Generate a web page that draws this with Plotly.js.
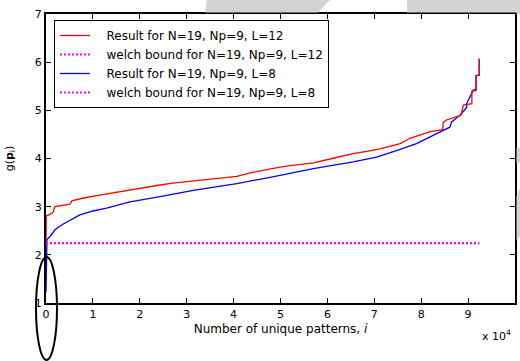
<!DOCTYPE html>
<html>
<head>
<meta charset="utf-8">
<script src="https://cdn.plot.ly/plotly-3.0.1.min.js"></script>
<style>html,body{margin:0;padding:0;background:#fff;}</style>
</head>
<body>
<div id="chart" style="width:520px;height:361px;"></div>
<script>
// Result for N=19, Np=9, L=12 (sorted g values vs pattern index)
const redX = [1, 20, 60, 850, 1500, 1900, 3500, 5100, 5500, 8000, 10800, 15000, 20000, 22200, 24300, 27000, 31400, 35000, 40700, 43500, 47800, 49900, 52000, 57000, 61000, 65500, 69000, 71200, 75500, 77600, 81900, 84600, 84700, 85400, 87600, 88500, 88600, 89000, 90800, 90800, 91700, 91700, 92378, 92378];
const redY = [2.23, 2.5, 2.81, 2.84, 2.88, 3.00, 3.03, 3.05, 3.12, 3.18, 3.23, 3.30, 3.38, 3.43, 3.45, 3.49, 3.54, 3.58, 3.63, 3.70, 3.79, 3.82, 3.85, 3.91, 4.00, 4.10, 4.16, 4.20, 4.31, 4.42, 4.56, 4.60, 4.75, 4.80, 4.87, 4.90, 4.95, 5.11, 5.14, 5.40, 5.41, 5.72, 5.73, 6.07];
// Result for N=19, Np=9, L=8
const blueX = [1, 30, 100, 200, 850, 1900, 3500, 5100, 7200, 10000, 12900, 17900, 22200, 24300, 31400, 40700, 47800, 49900, 57000, 65500, 70500, 75500, 79000, 81900, 84700, 86100, 86500, 88300, 89700, 89700, 91100, 91700, 91700, 92378, 92378];
const blueY = [1.23, 2.0, 2.25, 2.32, 2.38, 2.52, 2.63, 2.72, 2.83, 2.91, 2.97, 3.10, 3.17, 3.21, 3.34, 3.48, 3.61, 3.65, 3.79, 3.93, 4.03, 4.19, 4.31, 4.45, 4.59, 4.65, 4.76, 4.90, 5.06, 5.14, 5.42, 5.44, 5.72, 5.73, 6.07];
// Welch bounds
const welchX = [1, 92378];
const welch12 = [2.24, 2.24];
const welch8 = [2.24, 2.24];
const xTickVals = [0, 10000, 20000, 30000, 40000, 50000, 60000, 70000, 80000, 90000, 100000];
const xTickText = ['0','1','2','3','4','5','6','7','8','9','10'];
const yTickVals = [1, 2, 3, 4, 5, 6, 7];
const legendNames = ['Result for N=19, Np=9, L=12', 'welch bound for N=19, Np=9, L=12', 'Result for N=19, Np=9, L=8', 'welch bound for N=19, Np=9, L=8'];

const W = 520, H = 361, L = 46, R = 5, T = 14, B = 58;
const pw = W - L - R, ph = H - T - B;
const px = v => (v - L) / pw;
const py = v => (H - B - v) / ph;
const pad = '\u00a0\u00a0\u00a0';

const traces = [
  {x: blueX, y: blueY, mode: 'lines', name: pad + legendNames[2], legendrank: 3, line: {color: '#0000ff', width: 1.3}},
  {x: welchX, y: welch8, mode: 'lines', name: pad + legendNames[3], legendrank: 4, line: {color: '#ff00ff', width: 2, dash: '2px,2px'}},
  {x: redX, y: redY, mode: 'lines', name: pad + legendNames[0], legendrank: 1, line: {color: '#ff0000', width: 1.3}},
  {x: welchX, y: welch12, mode: 'lines', name: pad + legendNames[1], legendrank: 2, line: {color: '#ff00ff', width: 2, dash: '2px,2px'}}
];

const gray = 'rgb(211,211,211)';
const layout = {
  width: W, height: H,
  margin: {l: L, r: R, t: T, b: B},
  paper_bgcolor: '#fff', plot_bgcolor: '#fff',
  font: {family: 'DejaVu Sans, Arial, sans-serif', size: 11, color: '#000'},
  showlegend: true,
  legend: {x: px(54), y: py(20), xanchor: 'left', yanchor: 'top', bgcolor: '#fff', bordercolor: '#000', borderwidth: 1, font: {size: 12}, tracegroupgap: 0, traceorder: 'normal'},
  xaxis: {
    range: [0, 100000], tickvals: xTickVals, ticktext: xTickText,
    showline: true, linecolor: '#000', linewidth: 2, mirror: 'ticks',
    ticks: 'inside', ticklen: 5, tickcolor: '#000', tickwidth: 1,
    showgrid: false, zeroline: false, layer: 'below traces',
    tickfont: {size: 11},
    title: {text: 'Number of unique patterns, <i>i</i>', font: {size: 12}, standoff: 4}
  },
  yaxis: {
    range: [1, 7], tickvals: yTickVals,
    showline: true, linecolor: '#000', linewidth: 2, mirror: 'ticks',
    ticks: 'inside', ticklen: 5, tickcolor: '#000', tickwidth: 1,
    showgrid: false, zeroline: false, layer: 'below traces',
    tickfont: {size: 11},
    title: {text: 'g(<b>p</b><sub>i</sub>)', font: {size: 11}}
  },
  annotations: [
    {xref: 'paper', yref: 'paper', x: px(513), y: py(326), xanchor: 'right', yanchor: 'top', text: 'x 10<sup>4</sup>', showarrow: false, font: {size: 11}}
  ],
  shapes: [
    {type: 'path', xref: 'paper', yref: 'paper', path: `M ${px(207)} ${py(0)} L ${px(330)} ${py(0)} L ${px(318)} ${py(12.5)} L ${px(205)} ${py(12.5)} Z`, fillcolor: gray, line: {width: 0}},
    {type: 'rect', xref: 'paper', yref: 'paper', x0: px(407), x1: px(520), y0: py(12.5), y1: py(0), fillcolor: gray, line: {width: 0}},
    {type: 'rect', xref: 'paper', yref: 'paper', x0: px(516.5), x1: px(520), y0: py(14), y1: py(0), fillcolor: gray, line: {width: 0}},
    {type: 'rect', xref: 'paper', yref: 'paper', x0: px(516.5), x1: px(520), y0: py(163), y1: py(148), fillcolor: gray, line: {width: 0}},
    {type: 'path', xref: 'paper', yref: 'paper', path: `M ${px(520)} ${py(188)} L ${px(516.5)} ${py(196)} L ${px(516.5)} ${py(240)} L ${px(520)} ${py(236)} Z`, fillcolor: gray, line: {width: 0}},
    {type: 'circle', xref: 'paper', yref: 'paper', x0: px(36), x1: px(57), y0: py(360), y1: py(257), line: {color: '#000', width: 2}, fillcolor: 'rgba(0,0,0,0)'}
  ]
};

Plotly.newPlot('chart', traces, layout, {staticPlot: true, displayModeBar: false});
</script>
</body>
</html>
